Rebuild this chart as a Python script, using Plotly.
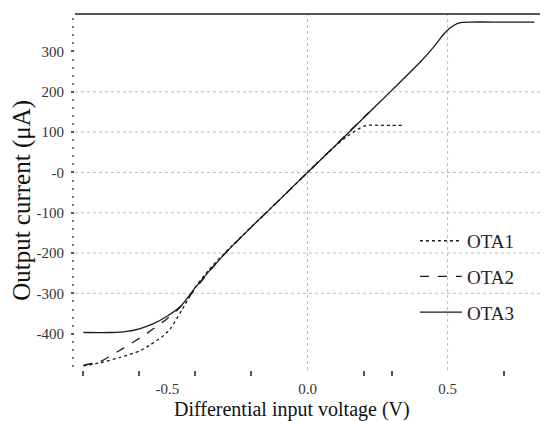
import plotly.graph_objects as go

# ---- data ----
ota1_x = [-0.80, -0.74, -0.67, -0.60, -0.56, -0.52, -0.49, -0.45, -0.40, -0.35, -0.30, -0.20, -0.10, 0.00, 0.06, 0.10, 0.14, 0.18, 0.21, 0.25, 0.30, 0.34]
ota1_y = [-480, -472, -459, -443, -427, -408, -388, -343, -284, -240, -203, -135, -68, 0, 40, 66, 89, 107, 117, 117, 117, 117]

ota2_x = [-0.80, -0.74, -0.66, -0.575, -0.50, -0.46, -0.42, -0.35, -0.30, -0.20, -0.10, 0.00, 0.10, 0.20, 0.22]
ota2_y = [-478, -469, -437, -400, -362, -338, -306, -245, -205, -135, -68, 0, 68, 136, 150]

ota3_x = [-0.80, -0.70, -0.65, -0.60, -0.55, -0.50, -0.45, -0.40, -0.30, -0.20, -0.10, 0.00, 0.10, 0.20, 0.30, 0.40, 0.45, 0.49, 0.52, 0.55, 0.58, 0.70, 0.81]
ota3_y = [-397, -397, -395, -388, -375, -356, -330, -285, -205, -135, -68, 0, 67, 135, 203, 272, 311, 346, 364, 372, 373, 373, 373]

series_names = ["OTA1", "OTA2", "OTA3"]
series_dash = ["dot", "dash", "solid"]

y_tickvals = [300, 200, 100, 0, -100, -200, -300, -400]
y_ticktext = ["300", "200", "100", "-0", "-100", "-200", "-300", "-400"]
y_grid = [200, 100, 0, -100, -200, -300]

x_tickvals = [-0.5, 0.0, 0.5]
x_ticktext = ["-0.5", "0.0", "0.5"]
x_minor = [-0.8, -0.6, -0.4, -0.2, 0.2, 0.3, 0.7]
x_grid = [0.0, 0.5]

xs = [ota1_x, ota2_x, ota3_x]
ys = [ota1_y, ota2_y, ota3_y]

FONT = "Liberation Serif"

fig = go.Figure()
for name, dash, x, y in zip(series_names, series_dash, xs, ys):
    fig.add_trace(go.Scatter(
        x=x, y=y, name=name, mode="lines", legendgroup=name,
        line=dict(color="#1a1a1a", width=1.3, dash=dash, shape="spline", smoothing=0.6),
    ))

for gy in y_grid:
    fig.add_hline(y=gy, line=dict(color="#bdbdbd", width=1, dash="dot"), layer="below")
for gx in x_grid:
    fig.add_vline(x=gx, line=dict(color="#bdbdbd", width=1, dash="dot"), layer="below")

# top border line
fig.add_shape(type="line", xref="paper", yref="paper", x0=0, x1=1, y0=1, y1=1,
              line=dict(color="#555555", width=2))

fig.update_layout(
    width=542, height=413,
    margin=dict(l=67, r=10, t=6, b=51),
    paper_bgcolor="white", plot_bgcolor="white",
    font=dict(family=FONT, color="#222"),
    showlegend=True,
    legend=dict(x=0.731, y=0.416, xanchor="left", yanchor="top",
                bgcolor="rgba(0,0,0,0)", font=dict(size=19, family=FONT, color="#222"),
                tracegroupgap=8, itemwidth=42),
    xaxis=dict(range=[-0.83, 0.83], showgrid=False, zeroline=False, showline=False,
               tickmode="array", tickvals=x_tickvals, ticktext=x_ticktext,
               ticks="", tickfont=dict(size=15, family=FONT, color="#333"),
               ticklabelstandoff=8,
               minor=dict(tickmode="array", tickvals=x_minor, ticks="outside",
                          ticklen=5, tickwidth=2, tickcolor="#555", showgrid=False)),
    yaxis=dict(range=[-490, 393], showgrid=False, zeroline=False, showline=False,
               tickmode="array", tickvals=y_tickvals, ticktext=y_ticktext,
               ticks="outside", ticklen=3, tickwidth=2, tickcolor="#555",
               tickfont=dict(size=15, family=FONT, color="#333"),
               ticklabelstandoff=4,
               minor=dict(dtick=20, ticks="outside", ticklen=2, tickwidth=2,
                          tickcolor="#777", showgrid=False)),
    annotations=[
        dict(text="Differential input voltage (V)", xref="paper", yref="paper",
             x=0.467, y=-0.112, xanchor="center", yanchor="middle", showarrow=False,
             font=dict(size=20, family=FONT, color="#111")),
        dict(text="Output current (\u03bcA)", xref="paper", yref="paper",
             x=-0.114, y=0.478, xanchor="center", yanchor="middle", showarrow=False,
             textangle=-90, font=dict(size=25, family=FONT, color="#111")),
    ],
)

fig.write_html("out.html")
